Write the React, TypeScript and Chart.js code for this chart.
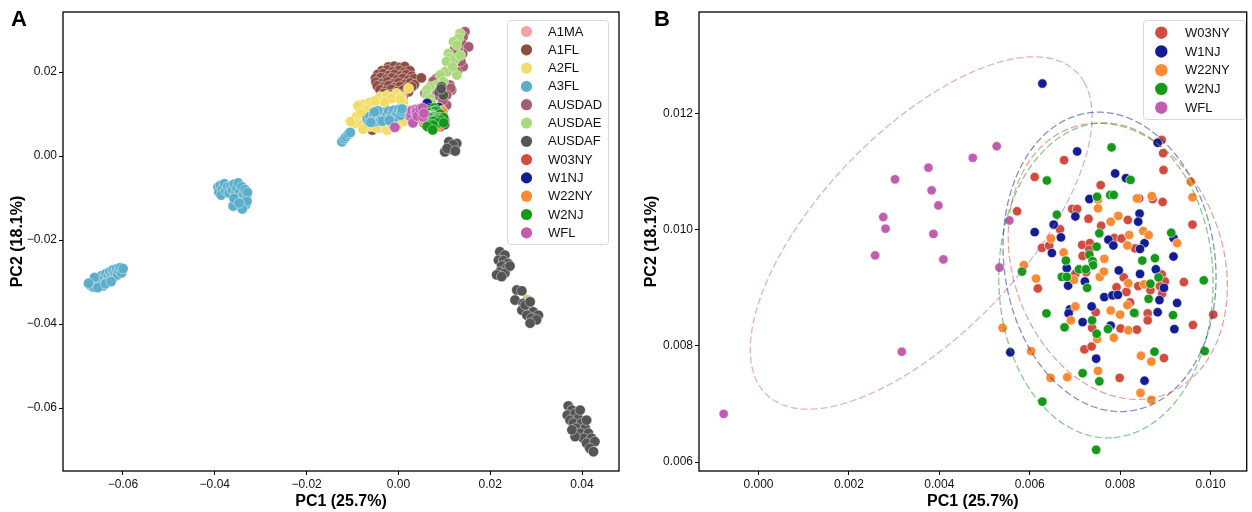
import React, { useEffect, useRef } from "react";
import { Chart, registerables } from "chart.js";

Chart.register(...registerables);

type Pt = [number, number];

const FONT = '"Liberation Sans", Arial, Helvetica, sans-serif';

// ---------------- categories ----------------
const GROUPS_A = ["A1MA", "A1FL", "A2FL", "A3FL", "AUSDAD", "AUSDAE", "AUSDAF", "W03NY", "W1NJ", "W22NY", "W2NJ", "WFL"];
const GROUPS_B = ["W03NY", "W1NJ", "W22NY", "W2NJ", "WFL"];
const ELLIPSE_GROUPS_B = ["W03NY", "W1NJ", "W2NJ", "WFL"];

// ---------------- tick labels ----------------
const A_X_TICKS = [-0.06, -0.04, -0.02, 0.0, 0.02, 0.04];
const A_Y_TICKS = [-0.06, -0.04, -0.02, 0.0, 0.02];
const B_X_TICKS = [0.0, 0.002, 0.004, 0.006, 0.008, 0.01];
const B_Y_TICKS = [0.006, 0.008, 0.01, 0.012];

const AXIS_X_TITLE = "PC1 (25.7%)";
const AXIS_Y_TITLE = "PC2 (18.1%)";

// ---------------- series values (PC1, PC2) ----------------
const A1MA: Pt[] = [[0.0069, 0.0117], [0.0075, 0.0114], [0.0065, 0.0110], [0.0072, 0.0121]];

const A1FL: Pt[] = [
  [-0.0022, 0.0212], [-0.0009, 0.0214], [0.0003, 0.0211], [0.0014, 0.0213],
  [-0.0036, 0.0203], [-0.0024, 0.0205], [-0.0012, 0.0201], [0.0001, 0.0204], [0.0013, 0.0200], [0.0025, 0.0203],
  [-0.0045, 0.0194], [-0.0033, 0.0196], [-0.0020, 0.0192], [-0.0008, 0.0195], [0.0005, 0.0191], [0.0017, 0.0194], [0.0029, 0.0190],
  [-0.0050, 0.0185], [-0.0038, 0.0187], [-0.0026, 0.0183], [-0.0014, 0.0186], [-0.0002, 0.0182], [0.0010, 0.0185], [0.0022, 0.0181], [0.0034, 0.0184],
  [-0.0049, 0.0176], [-0.0036, 0.0173], [-0.0024, 0.0177], [-0.0011, 0.0172], [0.0001, 0.0175], [0.0014, 0.0171], [0.0026, 0.0174], [0.0035, 0.0170],
  [-0.0046, 0.0167], [-0.0033, 0.0164], [-0.0021, 0.0168], [-0.0008, 0.0163], [0.0004, 0.0166], [0.0017, 0.0162], [0.0029, 0.0165],
  [-0.0040, 0.0158], [-0.0028, 0.0155], [-0.0015, 0.0159], [-0.0003, 0.0154], [0.0010, 0.0157], [0.0022, 0.0153],
  [-0.0032, 0.0149], [-0.0019, 0.0146], [-0.0006, 0.0148], [0.0007, 0.0145],
  [0.0050, 0.0186], [-0.0057, 0.0062], [-0.0046, 0.0068], [0.0010, 0.0140], [-0.0040, 0.0140],
];

const A2FL: Pt[] = [
  [-0.0087, 0.0121], [-0.0076, 0.0123], [-0.0062, 0.0128], [-0.0040, 0.0141], [-0.0025, 0.0144], [-0.0004, 0.0149],
  [0.0007, 0.0141], [0.0022, 0.0161], [-0.0091, 0.0094], [-0.0095, 0.0078], [-0.0080, 0.0074], [-0.0062, 0.0070],
  [-0.0033, 0.0066], [-0.0007, 0.0074], [0.0011, 0.0082], [-0.0051, 0.0131], [-0.0015, 0.0137], [0.0011, 0.0129],
  [0.0018, 0.0110], [-0.0104, 0.0082], [-0.0088, 0.0119], [-0.0077, 0.0064], [-0.0024, 0.0062], [-0.0002, 0.0071],
  [-0.0030, 0.0128], [-0.0070, 0.0110], [0.0004, 0.0135], [-0.0048, 0.0068], [-0.0015, 0.0070], [-0.0082, 0.0102],
];

const A3FL: Pt[] = [
  // main cluster
  [-0.0068, 0.0088], [-0.0064, 0.0082], [-0.0062, 0.0094], [-0.0057, 0.0086], [-0.0054, 0.0098], [-0.0050, 0.0082],
  [-0.0047, 0.0091], [-0.0043, 0.0100], [-0.0040, 0.0084], [-0.0036, 0.0094], [-0.0032, 0.0104], [-0.0029, 0.0087],
  [-0.0025, 0.0097], [-0.0021, 0.0107], [-0.0018, 0.0090], [-0.0014, 0.0100], [-0.0010, 0.0109], [-0.0007, 0.0093],
  [-0.0003, 0.0103], [0.0001, 0.0111], [0.0004, 0.0097], [0.0007, 0.0106], [-0.0045, 0.0108], [-0.0060, 0.0080],
  [-0.0035, 0.0083], [-0.0020, 0.0085], [0.0008, 0.0112], [-0.0052, 0.0105],
  // tail
  [-0.0123, 0.0034], [-0.0118, 0.0041], [-0.0114, 0.0046], [-0.0109, 0.0052], [-0.0105, 0.0056],
  // cluster near (-0.035, -0.009)
  [-0.0393, -0.0074], [-0.0391, -0.0086], [-0.0388, -0.0070], [-0.0384, -0.0080], [-0.0386, -0.0093], [-0.0379, -0.0066],
  [-0.0376, -0.0083], [-0.0372, -0.0073], [-0.0369, -0.0088], [-0.0365, -0.0071], [-0.0362, -0.0081], [-0.0358, -0.0067],
  [-0.0355, -0.0090], [-0.0352, -0.0076], [-0.0349, -0.0064], [-0.0346, -0.0086], [-0.0344, -0.0099], [-0.0341, -0.0073],
  [-0.0339, -0.0109], [-0.0337, -0.0092], [-0.0334, -0.0080], [-0.0333, -0.0116], [-0.0331, -0.0100], [-0.0329, -0.0087],
  [-0.0330, -0.0108], [-0.0360, -0.0119], [-0.0340, -0.0126], [-0.0358, -0.0101], [-0.0347, -0.0112],
  // cluster near (-0.064, -0.029)
  [-0.0671, -0.0308], [-0.0667, -0.0300], [-0.0664, -0.0312], [-0.0659, -0.0296], [-0.0657, -0.0306], [-0.0652, -0.0291],
  [-0.0650, -0.0302], [-0.0647, -0.0285], [-0.0645, -0.0296], [-0.0643, -0.0309], [-0.0640, -0.0289], [-0.0637, -0.0280],
  [-0.0635, -0.0297], [-0.0632, -0.0286], [-0.0629, -0.0276], [-0.0627, -0.0292], [-0.0624, -0.0282], [-0.0622, -0.0271],
  [-0.0619, -0.0288], [-0.0617, -0.0277], [-0.0614, -0.0269], [-0.0612, -0.0283], [-0.0609, -0.0273], [-0.0606, -0.0266],
  [-0.0603, -0.0278], [-0.0600, -0.0268], [-0.0662, -0.0289], [-0.0655, -0.0313], [-0.0638, -0.0304], [-0.0626, -0.0299],
  [-0.0675, -0.0303],
];

const AUSDAD: Pt[] = [
  [0.0145, 0.0296], [0.0141, 0.0284], [0.0138, 0.0268], [0.0153, 0.0260], [0.0140, 0.0244], [0.0130, 0.0252],
  [0.0123, 0.0256], [0.0141, 0.0213], [0.0120, 0.0233], [0.0105, 0.0201], [0.0080, 0.0181], [0.0083, 0.0185],
  [0.0076, 0.0178], [0.0112, 0.0169], [0.0116, 0.0157], [0.0114, 0.0161], [0.0073, 0.0153], [0.0083, 0.0145],
  [0.0105, 0.0145], [0.0098, 0.0129], [0.0105, 0.0121], [0.0067, 0.0141], [0.0097, 0.0133], [0.0058, 0.0149],
  [0.0136, 0.0225], [0.0128, 0.0200],
];

const AUSDAE: Pt[] = [
  [0.0134, 0.0292], [0.0131, 0.0280], [0.0120, 0.0272], [0.0127, 0.0264], [0.0109, 0.0244], [0.0112, 0.0233],
  [0.0105, 0.0225], [0.0123, 0.0229], [0.0127, 0.0193], [0.0102, 0.0201], [0.0091, 0.0193], [0.0098, 0.0177],
  [0.0083, 0.0169], [0.0069, 0.0165], [0.0062, 0.0157], [0.0062, 0.0145], [0.0069, 0.0137], [0.0073, 0.0125],
  [0.0118, 0.0212], [0.0135, 0.0240], [0.0280, -0.0342],
];

const AUSDAF: Pt[] = [
  // along the diagonal
  [0.0094, 0.0165], [0.0089, 0.0153], [0.0098, 0.0145], [0.0093, 0.0160], [0.0091, 0.0070], [0.0088, 0.0074], [0.0101, 0.0075],
  // small cluster near (0.012, 0.002)
  [0.0101, 0.0010], [0.0110, 0.0034], [0.0123, 0.0022], [0.0127, 0.0030], [0.0115, 0.0016], [0.0119, 0.0027], [0.0106, 0.0018], [0.0124, 0.0012],
  // cluster near (0.023, -0.026)
  [0.0221, -0.0228], [0.0232, -0.0236], [0.0218, -0.0248], [0.0229, -0.0249], [0.0239, -0.0256], [0.0225, -0.0262],
  [0.0236, -0.0267], [0.0221, -0.0276], [0.0232, -0.0279], [0.0214, -0.0283], [0.0225, -0.0287], [0.0243, -0.0262],
  // cluster near (0.028, -0.036)
  [0.0258, -0.0319], [0.0269, -0.0321], [0.0254, -0.0343], [0.0272, -0.0351], [0.0283, -0.0359], [0.0269, -0.0367],
  [0.0294, -0.0371], [0.0280, -0.0379], [0.0305, -0.0379], [0.0290, -0.0386], [0.0301, -0.0390], [0.0287, -0.0398],
  [0.0276, -0.0355], [0.0287, -0.0347],
  // cluster near (0.040, -0.065)
  [0.0370, -0.0595], [0.0378, -0.0605], [0.0368, -0.0617], [0.0385, -0.0613], [0.0374, -0.0629], [0.0392, -0.0625],
  [0.0381, -0.0636], [0.0399, -0.0636], [0.0388, -0.0648], [0.0407, -0.0648], [0.0396, -0.0660], [0.0414, -0.0660],
  [0.0403, -0.0672], [0.0421, -0.0672], [0.0410, -0.0684], [0.0428, -0.0680], [0.0417, -0.0696], [0.0425, -0.0704],
  [0.0385, -0.0668], [0.0396, -0.0605], [0.0378, -0.0652], [0.0410, -0.0629],
];

const W03NY: Pt[] = [
  [0.00892, 0.01155], [0.00895, 0.01132], [0.00676, 0.0112], [0.00896, 0.01103], [0.00611, 0.01091], [0.00757, 0.01077],
  [0.00842, 0.01054], [0.00872, 0.01053], [0.00894, 0.01048], [0.00572, 0.01032], [0.00694, 0.01036], [0.00705, 0.01036],
  [0.0073, 0.01019], [0.00817, 0.01017], [0.00758, 0.01007], [0.00667, 0.01001], [0.0096, 0.01009], [0.00627, 0.00969],
  [0.00643, 0.00973], [0.00716, 0.00974], [0.00733, 0.00977], [0.00717, 0.00955], [0.00732, 0.00966], [0.00787, 0.00986],
  [0.00803, 0.00985], [0.00833, 0.00968], [0.00701, 0.00924], [0.00725, 0.00927], [0.00808, 0.00918], [0.00892, 0.00923],
  [0.00899, 0.00911], [0.00941, 0.0091], [0.00618, 0.00899], [0.00792, 0.00901], [0.00814, 0.00893], [0.0084, 0.00903],
  [0.00867, 0.00896], [0.00888, 0.00903], [0.00893, 0.0089], [0.00822, 0.00875], [0.00833, 0.00856], [0.00746, 0.00858],
  [0.00861, 0.00856], [0.00861, 0.00844], [0.01006, 0.00854], [0.00738, 0.00831], [0.00801, 0.0083], [0.00837, 0.00828],
  [0.00961, 0.00836], [0.00721, 0.00794], [0.00737, 0.00799], [0.00897, 0.00779], [0.00799, 0.00745],
];

const W1NJ: Pt[] = [
  [0.00628, 0.01252], [0.00705, 0.01135], [0.00789, 0.01097], [0.00813, 0.01089], [0.00883, 0.0115], [0.00732, 0.01053],
  [0.00843, 0.01028], [0.0084, 0.01014], [0.00701, 0.01023], [0.00653, 0.01009], [0.00611, 0.00996], [0.00669, 0.00987],
  [0.00649, 0.0096], [0.00682, 0.00934], [0.00685, 0.00904], [0.00722, 0.00911], [0.00774, 0.00983], [0.00785, 0.00973],
  [0.00854, 0.00977], [0.00844, 0.00967], [0.00797, 0.0093], [0.00844, 0.00924], [0.00879, 0.00932], [0.00918, 0.00986],
  [0.00918, 0.00954], [0.00897, 0.009], [0.00887, 0.00879], [0.00926, 0.00874], [0.00765, 0.00884], [0.00783, 0.00887],
  [0.00795, 0.00888], [0.00737, 0.00868], [0.00689, 0.00863], [0.00686, 0.00856], [0.00717, 0.00841], [0.00779, 0.00835],
  [0.00883, 0.00858], [0.0092, 0.00829], [0.00557, 0.00789], [0.00747, 0.00778], [0.00854, 0.0074],
];

const W22NY: Pt[] = [
  [0.00956, 0.01083], [0.0096, 0.01056], [0.00751, 0.01052], [0.00751, 0.01037], [0.00837, 0.01054], [0.0087, 0.01058],
  [0.00796, 0.01024], [0.00779, 0.01014], [0.0082, 0.00991], [0.00851, 0.00998], [0.00863, 0.00991], [0.00816, 0.00973],
  [0.00926, 0.00977], [0.00647, 0.00985], [0.00675, 0.00961], [0.00765, 0.0095], [0.00587, 0.00939], [0.00614, 0.00916],
  [0.00698, 0.00914], [0.00755, 0.00919], [0.00764, 0.00928], [0.00818, 0.00908], [0.00853, 0.00906], [0.00701, 0.00868],
  [0.00691, 0.00844], [0.00779, 0.00861], [0.008, 0.00854], [0.00816, 0.0087], [0.00818, 0.00827], [0.00786, 0.00814],
  [0.00749, 0.00812], [0.0054, 0.00831], [0.00603, 0.00791], [0.00846, 0.00783], [0.00869, 0.00773], [0.00751, 0.00757],
  [0.00646, 0.00745], [0.00683, 0.00746], [0.00845, 0.00719], [0.00869, 0.00707],
];

const W2NJ: Pt[] = [
  [0.00781, 0.01142], [0.00638, 0.01085], [0.00823, 0.01086], [0.00749, 0.01057], [0.00778, 0.0106], [0.00786, 0.0106],
  [0.0066, 0.01026], [0.00754, 0.00994], [0.00748, 0.00971], [0.00732, 0.00957], [0.0068, 0.00947], [0.00739, 0.00946],
  [0.0074, 0.00939], [0.00709, 0.00932], [0.00724, 0.00932], [0.00671, 0.00919], [0.00682, 0.00919], [0.00583, 0.00928],
  [0.00727, 0.009], [0.00849, 0.00947], [0.00877, 0.00951], [0.00913, 0.00995], [0.00885, 0.00918], [0.00867, 0.00907],
  [0.00863, 0.00881], [0.00985, 0.00913], [0.00637, 0.00856], [0.00831, 0.00857], [0.00917, 0.00853], [0.00677, 0.00832],
  [0.00738, 0.00844], [0.00748, 0.00821], [0.00773, 0.00829], [0.00876, 0.0079], [0.00987, 0.00791], [0.00717, 0.00753],
  [0.00754, 0.00739], [0.00628, 0.00704], [0.00747, 0.00621],
];

const WFL: Pt[] = [
  [-0.00077, 0.00683], [0.00258, 0.00956], [0.00276, 0.01022], [0.00281, 0.01002], [0.00302, 0.01087], [0.00317, 0.0079],
  [0.00376, 0.01107], [0.00383, 0.01068], [0.00387, 0.00993], [0.00398, 0.01042], [0.00409, 0.00949], [0.00474, 0.01124],
  [0.00527, 0.01144], [0.00533, 0.00935], [0.00555, 0.01016],
];

const SERIES: Record<string, Pt[]> = { A1MA, A1FL, A2FL, A3FL, AUSDAD, AUSDAE, AUSDAF, W03NY, W1NJ, W22NY, W2NJ, WFL };

// ---------------- styles ----------------
const COLORS: Record<string, string> = {
  A1MA: "#F6A2A7",
  A1FL: "#8E4D43",
  A2FL: "#F1DC67",
  A3FL: "#5DAECA",
  AUSDAD: "#A65D70",
  AUSDAE: "#AADA7B",
  AUSDAF: "#555555",
  W03NY: "#D14B3E",
  W1NJ: "#121D93",
  W22NY: "#FB8A34",
  W2NJ: "#16981A",
  WFL: "#C15DB1",
};

const CONF_K = 2.4477; // sqrt(chi2_{0.95, df=2})

function hexA(hex: string, a: number) {
  const n = parseInt(hex.slice(1), 16);
  return `rgba(${(n >> 16) & 255},${(n >> 8) & 255},${n & 255},${a})`;
}

function confidenceEllipse(pts: Pt[], k: number, steps = 240) {
  const n = pts.length;
  const mx = pts.reduce((s, p) => s + p[0], 0) / n;
  const my = pts.reduce((s, p) => s + p[1], 0) / n;
  let sxx = 0, syy = 0, sxy = 0;
  for (const [x, y] of pts) {
    sxx += (x - mx) * (x - mx);
    syy += (y - my) * (y - my);
    sxy += (x - mx) * (y - my);
  }
  sxx /= n - 1; syy /= n - 1; sxy /= n - 1;
  const tr = sxx + syy;
  const det = sxx * syy - sxy * sxy;
  const disc = Math.sqrt(Math.max(tr * tr / 4 - det, 0));
  const l1 = tr / 2 + disc, l2 = Math.max(tr / 2 - disc, 0);
  const th = 0.5 * Math.atan2(2 * sxy, sxx - syy);
  const c = Math.cos(th), s = Math.sin(th);
  const a = k * Math.sqrt(l1), b = k * Math.sqrt(l2);
  const out: { x: number; y: number }[] = [];
  for (let i = 0; i <= steps; i++) {
    const t = (i / steps) * Math.PI * 2;
    const u = a * Math.cos(t), v = b * Math.sin(t);
    out.push({ x: mx + u * c - v * s, y: my + u * s + v * c });
  }
  return out;
}

type LegendSpec = {
  x: number; y: number; w: number; h: number; items: string[];
  firstY: number; rowH: number; markerX: number; textX: number; r: number;
};

const decorPlugin = {
  id: "decor",
  afterDraw(chart: any, _args: any, o: any) {
    const { ctx, chartArea: a } = chart;
    ctx.save();
    // frame
    ctx.strokeStyle = "#000";
    ctx.lineWidth = 1.3;
    ctx.strokeRect(a.left, a.top, a.right - a.left, a.bottom - a.top);
    // panel letter
    ctx.fillStyle = "#000";
    ctx.font = `bold 22px ${FONT}`;
    ctx.textBaseline = "alphabetic";
    ctx.textAlign = "left";
    ctx.fillText(o.letter, o.letterX, o.letterY);
    // legend
    const lg: LegendSpec = o.legend;
    ctx.beginPath();
    if ((ctx as any).roundRect) (ctx as any).roundRect(lg.x + 0.5, lg.y + 0.5, lg.w, lg.h, 3);
    else ctx.rect(lg.x + 0.5, lg.y + 0.5, lg.w, lg.h);
    ctx.fillStyle = "rgba(255,255,255,0.85)";
    ctx.fill();
    ctx.strokeStyle = "#d8d8d8";
    ctx.lineWidth = 1;
    ctx.stroke();
    ctx.font = `13px ${FONT}`;
    ctx.textBaseline = "middle";
    lg.items.forEach((name, i) => {
      const cy = lg.firstY + i * lg.rowH;
      ctx.beginPath();
      ctx.arc(lg.markerX, cy, lg.r, 0, Math.PI * 2);
      ctx.fillStyle = COLORS[name];
      ctx.fill();
      ctx.fillStyle = "#111";
      ctx.fillText(name, lg.textX, cy + 0.5);
    });
    ctx.restore();
  },
};

function axis(opts: {
  min: number; max: number; ticks: number[]; fmt: (v: number) => string; title: string;
  horizontal: boolean; size: number; titlePad: any;
}) {
  return {
    type: "linear",
    min: opts.min,
    max: opts.max,
    afterBuildTicks: (s: any) => { s.ticks = opts.ticks.map((value) => ({ value })); },
    afterFit: (s: any) => { if (opts.horizontal) s.height = opts.size; else s.width = opts.size; },
    grid: { drawOnChartArea: false, drawTicks: true, tickLength: 4, color: "#000", lineWidth: 1 },
    border: { display: false },
    ticks: {
      autoSkip: false, maxRotation: 0, padding: 2, color: "#111",
      font: { family: FONT, size: 12 },
      callback: (v: any) => opts.fmt(Number(v)),
    },
    title: {
      display: true, text: opts.title, color: "#000",
      font: { family: FONT, size: 16, weight: "bold" },
      padding: opts.titlePad,
    },
  };
}

const fmtA = (v: number) => (v < -1e-12 ? "\u2212" + Math.abs(v).toFixed(2) : Math.abs(v).toFixed(2));
const fmtB = (v: number) => v.toFixed(3);

function configA(): any {
  const datasets = GROUPS_A.map((g, i) => ({
    label: g,
    data: SERIES[g].map(([x, y]) => ({ x, y })),
    backgroundColor: COLORS[g],
    borderColor: "rgba(255,255,255,0.85)",
    borderWidth: 0.5,
    pointRadius: 5.2,
    order: 100 - i,
  }));
  return {
    type: "scatter",
    data: { datasets },
    options: {
      animation: false,
      responsive: false,
      maintainAspectRatio: false,
      events: [],
      layout: { padding: { left: 0, top: 12, right: 7, bottom: 0 } },
      plugins: {
        legend: { display: false },
        tooltip: { enabled: false },
        decor: {
          letter: "A", letterX: 11, letterY: 26,
          legend: { x: 507, y: 20, w: 101, h: 224, items: GROUPS_A, firstY: 31.5, rowH: 18.3, markerX: 526.5, textX: 548, r: 5.6 },
        },
      },
      scales: {
        x: axis({ min: -0.07307, max: 0.04806, ticks: A_X_TICKS, fmt: fmtA, title: AXIS_X_TITLE, horizontal: true, size: 41, titlePad: { top: 0, bottom: 1 } }),
        y: axis({ min: -0.075, max: 0.03429, ticks: A_Y_TICKS, fmt: fmtA, title: AXIS_Y_TITLE, horizontal: false, size: 63, titlePad: { top: 8.4, bottom: 0 } }),
      },
    },
    plugins: [decorPlugin],
  };
}

function configB(): any {
  const pts = GROUPS_B.map((g, i) => ({
    label: g,
    data: SERIES[g].map(([x, y]) => ({ x, y })),
    backgroundColor: COLORS[g],
    borderColor: "#ffffff",
    borderWidth: 0.6,
    pointRadius: 4.7,
    order: 100 - i,
  }));
  const ells = ELLIPSE_GROUPS_B.map((g) => ({
    label: g + " ellipse",
    data: confidenceEllipse(SERIES[g], CONF_K),
    showLine: true,
    pointRadius: 0,
    borderColor: hexA(COLORS[g], 0.5),
    borderWidth: 1.3,
    borderDash: [7, 3],
    fill: false,
    tension: 0,
    order: 1,
  }));
  return {
    type: "scatter",
    data: { datasets: [...pts, ...ells] },
    options: {
      animation: false,
      responsive: false,
      maintainAspectRatio: false,
      events: [],
      layout: { padding: { left: 0, top: 12, right: 3, bottom: 0 } },
      plugins: {
        legend: { display: false },
        tooltip: { enabled: false },
        decor: {
          letter: "B", letterX: 28, letterY: 26,
          legend: { x: 517, y: 20, w: 102, h: 99, items: GROUPS_B, firstY: 32.7, rowH: 18.75, markerX: 535.3, textX: 559, r: 6.2 },
        },
      },
      scales: {
        x: axis({ min: -0.001316, max: 0.0108, ticks: B_X_TICKS, fmt: fmtB, title: AXIS_X_TITLE, horizontal: true, size: 41, titlePad: { top: 0, bottom: 1 } }),
        y: axis({ min: 0.005845, max: 0.013753, ticks: B_Y_TICKS, fmt: fmtB, title: AXIS_Y_TITLE, horizontal: false, size: 73, titlePad: { top: 16.4, bottom: 0 } }),
      },
    },
    plugins: [decorPlugin],
  };
}

export default function App() {
  const refA = useRef<HTMLCanvasElement>(null);
  const refB = useRef<HTMLCanvasElement>(null);
  useEffect(() => {
    const a = new Chart(refA.current as HTMLCanvasElement, configA());
    const b = new Chart(refB.current as HTMLCanvasElement, configB());
    return () => {
      a.destroy();
      b.destroy();
    };
  }, []);
  return (
    <div style={{ position: "fixed", left: 0, top: 0, width: 1252, height: 512, background: "#fff", overflow: "hidden" }}>
      <canvas ref={refA} width={626} height={512} style={{ position: "absolute", left: 0, top: 0, width: 626, height: 512 }} />
      <canvas ref={refB} width={626} height={512} style={{ position: "absolute", left: 626, top: 0, width: 626, height: 512 }} />
    </div>
  );
}
